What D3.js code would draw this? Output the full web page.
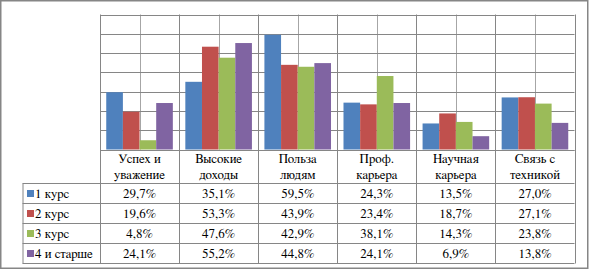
<!DOCTYPE html>
<html>
<head>
<meta charset="utf-8">
<script src="https://cdn.jsdelivr.net/npm/d3@7"></script>
<style>
  body { margin: 0; background: #fff; }
</style>
</head>
<body>
<script>
// categories (two-line labels) and series
var categories = [["Успех и", "уважение"], ["Высокие", "доходы"], ["Польза", "людям"],
                  ["Проф.", "карьера"], ["Научная", "карьера"], ["Связь с", "техникой"]];
var seriesNames = ["1 курс", "2 курс", "3 курс", "4 и старше"];
var colors = ["#4F81BD", "#C0504D", "#9BBB59", "#8064A2"];

var kurs1 = [29.7, 35.1, 59.5, 24.3, 13.5, 27.0];
var kurs2 = [19.6, 53.3, 43.9, 23.4, 18.7, 27.1];
var kurs3 = [4.8, 47.6, 42.9, 38.1, 14.3, 23.8];
var kurs4 = [24.1, 55.2, 44.8, 24.1, 6.9, 13.8];
var yTicks = [0, 10, 20, 30, 40, 50, 60, 70];

var allSeries = [kurs1, kurs2, kurs3, kurs4];
var catKeys = categories.map(function(c, i) { return i; });

var width = 589, height = 270;
var plot = {left: 100, right: 574.5, top: 14.5, bottom: 149.5};
var rowLabelLeft = 22.5;
var headerBottom = 183.5, rowH = 20;
var fontFam = "FreeSerif, 'Liberation Serif', 'Times New Roman', serif";

var svg = d3.select("body").append("svg")
    .attr("width", width)
    .attr("height", height);

// outer frame
svg.append("rect")
    .attr("x", 0.75).attr("y", 0.75)
    .attr("width", 587).attr("height", 267.5)
    .attr("fill", "#fff")
    .attr("stroke", "#868686")
    .attr("stroke-width", 1.5);

var x0 = d3.scaleBand().domain(catKeys).range([plot.left, plot.right]);
var x1 = d3.scaleBand().domain(d3.range(4)).range([0, x0.bandwidth()])
    .paddingInner(0).paddingOuter(0.375);
var y = d3.scaleLinear().domain([0, 70]).range([plot.bottom, plot.top]);

// vertical lines at category centers (lighter)
svg.append("g").selectAll("line")
    .data(catKeys).enter().append("line")
    .attr("x1", function(d) { return Math.round(x0(d) + x0.bandwidth() / 2) + 0.5; })
    .attr("x2", function(d) { return Math.round(x0(d) + x0.bandwidth() / 2) + 0.5; })
    .attr("y1", plot.top).attr("y2", plot.bottom)
    .attr("stroke", "#a6a6a6");

// horizontal gridlines
svg.append("g").selectAll("line")
    .data(yTicks).enter().append("line")
    .attr("x1", plot.left).attr("x2", plot.right)
    .attr("y1", function(d) { return Math.round(y(d)) + 0.5; })
    .attr("y2", function(d) { return Math.round(y(d)) + 0.5; })
    .attr("stroke", "#868686");

// category boundaries (through header row too)
var bounds = catKeys.map(function(d) { return x0(d); }).concat([plot.right]);
svg.append("g").selectAll("line")
    .data(bounds).enter().append("line")
    .attr("x1", function(d) { return Math.round(d) + 0.5; })
    .attr("x2", function(d) { return Math.round(d) + 0.5; })
    .attr("y1", plot.top).attr("y2", headerBottom + 4 * rowH)
    .attr("stroke", "#868686");

// bars
allSeries.forEach(function(vals, s) {
    svg.append("g").selectAll("rect")
        .data(vals).enter().append("rect")
        .attr("x", function(d, i) { return x0(i) + x1(s); })
        .attr("y", function(d) { return y(d); })
        .attr("width", x1.bandwidth())
        .attr("height", function(d) { return y(0) - y(d); })
        .attr("fill", colors[s]);
});

// redraw bottom line of plot over bars
svg.append("line")
    .attr("x1", plot.left).attr("x2", plot.right)
    .attr("y1", Math.round(plot.bottom) + 0.5).attr("y2", Math.round(plot.bottom) + 0.5)
    .attr("stroke", "#868686");

// header labels
var header = svg.append("g").selectAll("text")
    .data(categories).enter().append("text")
    .attr("font-family", fontFam)
    .attr("font-size", 13)
    .attr("text-anchor", "middle")
    .attr("x", function(d, i) { return x0(i) + x0.bandwidth() / 2; });
header.append("tspan")
    .attr("x", function(d, i) { return x0(i) + x0.bandwidth() / 2; })
    .attr("y", 163)
    .text(function(d) { return d[0]; });
header.append("tspan")
    .attr("x", function(d, i) { return x0(i) + x0.bandwidth() / 2; })
    .attr("y", 179)
    .text(function(d) { return d[1]; });

// table row lines
var rowLines = d3.range(5).map(function(r) { return headerBottom + r * rowH; });
svg.append("g").selectAll("line")
    .data(rowLines).enter().append("line")
    .attr("x1", rowLabelLeft).attr("x2", plot.right)
    .attr("y1", function(d) { return d; }).attr("y2", function(d) { return d; })
    .attr("stroke", "#868686");
svg.append("line")
    .attr("x1", rowLabelLeft + 0.5).attr("x2", rowLabelLeft + 0.5)
    .attr("y1", headerBottom).attr("y2", headerBottom + 4 * rowH)
    .attr("stroke", "#868686");

// rows: legend key, label, values
allSeries.forEach(function(vals, s) {
    var ty = headerBottom + s * rowH + 14.5;
    svg.append("rect")
        .attr("x", 27).attr("y", headerBottom + s * rowH + 6.5)
        .attr("width", 7).attr("height", 7)
        .attr("fill", colors[s]);
    svg.append("text")
        .attr("font-family", fontFam)
        .attr("font-size", 13)
        .attr("x", 35).attr("y", ty)
        .text(seriesNames[s]);
    svg.append("g").selectAll("text")
        .data(vals).enter().append("text")
        .attr("font-family", fontFam)
        .attr("font-size", 13)
        .attr("text-anchor", "middle")
        .attr("x", function(d, i) { return x0(i) + x0.bandwidth() / 2; })
        .attr("y", ty)
        .text(function(d) { return d.toFixed(1).replace(".", ",") + "%"; });
});
</script>
</body>
</html>
